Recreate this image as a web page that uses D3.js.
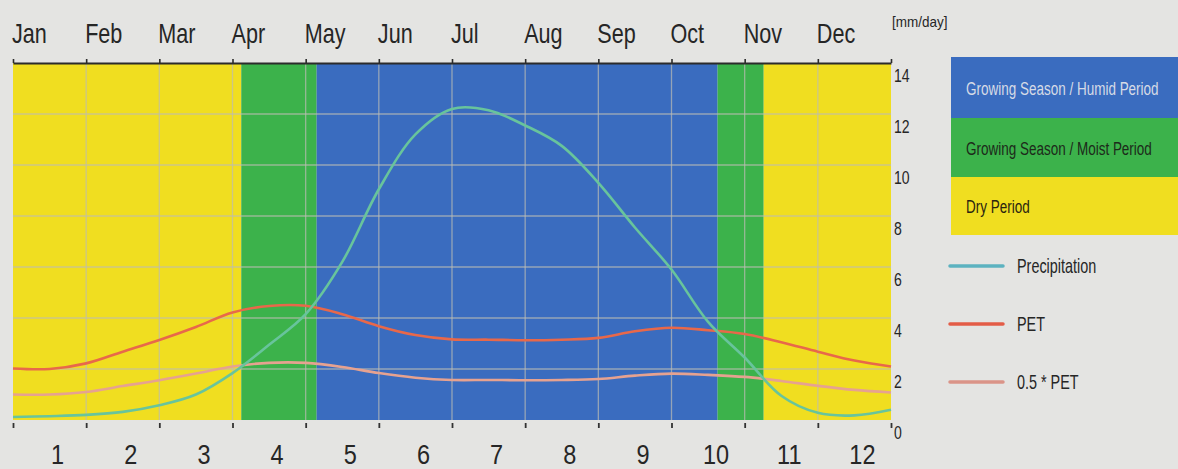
<!DOCTYPE html>
<html>
<head>
<meta charset="utf-8">
<script src="https://cdn.jsdelivr.net/npm/d3@7"></script>
<style>
  html, body { margin: 0; padding: 0; background: #e4e4e2; }
  svg { display: block; }
  text { font-family: "Liberation Sans", Arial, sans-serif; fill: #262626; }
</style>
</head>
<body>
<svg id="chart" width="1178" height="469"></svg>
<script>
// ---- data -------------------------------------------------------------
const monthNames = ["Jan", "Feb", "Mar", "Apr", "May", "Jun", "Jul", "Aug", "Sep", "Oct", "Nov", "Dec"];
const monthNumbers = ["1", "2", "3", "4", "5", "6", "7", "8", "9", "10", "11", "12"];
const yTickValues = [0, 2, 4, 6, 8, 10, 12, 14];
const unitLabel = "[mm/day]";

// sample positions along the year, in months from 1 January
const samplePos = [0, 0.5, 1, 1.5, 2, 2.5, 3, 3.5, 4, 4.5, 5, 5.5, 6,
                   6.5, 7, 7.5, 8, 8.5, 9, 9.5, 10, 10.5, 11, 11.5, 12];
// mm/day
const precipitation = [0.12, 0.15, 0.2, 0.32, 0.58, 1.0, 1.84, 2.95, 4.15, 6.2, 9.05, 11.2, 12.2,
                       12.15, 11.55, 10.75, 9.3, 7.55, 5.9, 3.85, 2.45, 0.95, 0.28, 0.18, 0.4];
const pet = [2.02, 2.0, 2.22, 2.68, 3.14, 3.65, 4.22, 4.47, 4.48, 4.15, 3.68, 3.33, 3.16,
             3.15, 3.13, 3.15, 3.22, 3.48, 3.62, 3.52, 3.37, 3.05, 2.68, 2.33, 2.1];
const halfPet = [1.0, 1.0, 1.1, 1.33, 1.56, 1.82, 2.1, 2.24, 2.24, 2.08, 1.84, 1.66, 1.57,
                 1.57, 1.56, 1.57, 1.61, 1.74, 1.82, 1.77, 1.69, 1.53, 1.34, 1.18, 1.08];

// season boundaries (months from 1 January) and the kind of each period
const periodBounds = [0, 3.12, 4.15, 9.63, 10.26, 12];
const periodKinds = ["dry", "moist", "humid", "moist", "dry"];

const bandKinds = ["humid", "moist", "dry"];
const bandLabels = ["Growing Season / Humid Period", "Growing Season / Moist Period", "Dry Period"];
const seriesNames = ["Precipitation", "PET", "0.5 * PET"];

// ---- styling ----------------------------------------------------------
const bandFill = { humid: "#3a6cbf", moist: "#3cb24b", dry: "#f0de20" };
const bandText = { humid: "#d6dbe6", moist: "#1d2a1a", dry: "#2a2410" };
const seriesColor = ["#68c49c", "#e8684a", "#e6a290"];
const legendLineColor = ["#5cb2c0", "#e35c47", "#da9488"];

const plot = { left: 13, right: 891, top: 63, bottom: 420 };

const svg = d3.select("#chart");

const x = d3.scaleLinear().domain([0, 12]).range([plot.left, plot.right]);
const y = d3.scaleLinear().domain([0, 14]).range([plot.bottom, plot.top]);

// place a text at (px, py) and narrow it horizontally by factor k
function placeNarrow(sel, px, py, k) {
  sel.attr("x", 0).attr("y", 0)
    .attr("transform", (d, i) => `translate(${px(d, i)},${py(d, i)}) scale(${k},1)`);
}

// ---- season bands -----------------------------------------------------
svg.append("g").selectAll("rect")
  .data(periodKinds)
  .join("rect")
  .attr("x", (d, i) => x(periodBounds[i]))
  .attr("width", (d, i) => x(periodBounds[i + 1]) - x(periodBounds[i]))
  .attr("y", y(14))
  .attr("height", y(0) - y(14))
  .attr("fill", d => bandFill[d]);

// ---- grid -------------------------------------------------------------
const grid = svg.append("g")
  .attr("stroke", "#bcbcb4")
  .attr("stroke-opacity", 0.7)
  .attr("stroke-width", 1.3);
grid.selectAll("line.v")
  .data(d3.range(1, 12))
  .join("line")
  .attr("class", "v")
  .attr("x1", d => x(d)).attr("x2", d => x(d))
  .attr("y1", y(14)).attr("y2", y(0));
grid.selectAll("line.h")
  .data(yTickValues.filter(v => v > 0 && v < 14))
  .join("line")
  .attr("class", "h")
  .attr("x1", x(0)).attr("x2", x(12))
  .attr("y1", d => y(d)).attr("y2", d => y(d));

// ---- series lines -----------------------------------------------------
const line = d3.line()
  .x(d => x(d[0]))
  .y(d => y(d[1]))
  .curve(d3.curveCatmullRom.alpha(0.5));

const allSeries = [precipitation, pet, halfPet];
// draw 0.5*PET first, precipitation last
[2, 1, 0].forEach(i => {
  svg.append("path")
    .datum(samplePos.map((p, j) => [p, allSeries[i][j]]))
    .attr("fill", "none")
    .attr("stroke", seriesColor[i])
    .attr("stroke-width", 2.6)
    .attr("stroke-linejoin", "round")
    .attr("d", line);
});

// ---- axes -------------------------------------------------------------
const topAxis = svg.append("g")
  .attr("transform", `translate(0,${plot.top})`)
  .call(d3.axisTop(x).tickValues(d3.range(0, 13)).tickFormat("").tickSize(4).tickSizeOuter(0));
topAxis.select(".domain").attr("stroke", "#2b2b2b").attr("stroke-width", 2.2);
topAxis.selectAll(".tick line").attr("stroke", "#2b2b2b").attr("stroke-width", 1.6);

const bottomAxis = svg.append("g")
  .attr("transform", `translate(0,${plot.bottom + 3})`)
  .call(d3.axisBottom(x).tickValues(d3.range(0, 13)).tickFormat("").tickSize(5).tickSizeOuter(0));
bottomAxis.select(".domain").remove();
bottomAxis.selectAll(".tick line").attr("stroke", "#333").attr("stroke-width", 1.8);

// month names above the plot, starting at each month boundary
svg.append("g").selectAll("text")
  .data(monthNames)
  .join("text")
  .attr("font-size", 27)
  .text(d => d)
  .call(placeNarrow, (d, i) => x(i) - 1, () => 43, 0.8);

// month numbers under the plot, centred in each month
svg.append("g").selectAll("text")
  .data(monthNumbers)
  .join("text")
  .attr("text-anchor", "middle")
  .attr("font-size", 28)
  .text(d => d)
  .call(placeNarrow, (d, i) => x(i + 0.5) + 8, () => 464, 0.84);

// value axis on the right, labels hanging below their gridline
svg.append("g").selectAll("text")
  .data(yTickValues)
  .join("text")
  .attr("font-size", 18)
  .text(d => d)
  .call(placeNarrow, () => plot.right + 3, d => y(d) + 19, 0.78);

svg.append("g").selectAll("text")
  .data([unitLabel])
  .join("text")
  .attr("font-size", 15)
  .text(d => d)
  .call(placeNarrow, () => plot.right + 1, () => 27, 0.9);

// ---- legend: season bands ---------------------------------------------
const bandLegend = svg.append("g").attr("transform", "translate(951,57)");
const bandH = [61, 59, 58];
const bandTop = [0, 61, 120];
bandLegend.selectAll("rect")
  .data(bandKinds)
  .join("rect")
  .attr("x", 0)
  .attr("y", (d, i) => bandTop[i])
  .attr("width", 227)
  .attr("height", (d, i) => bandH[i])
  .attr("fill", d => bandFill[d]);
bandLegend.selectAll("text")
  .data(bandKinds)
  .join("text")
  .attr("font-size", 19)
  .style("fill", d => bandText[d])
  .text((d, i) => bandLabels[i])
  .call(placeNarrow, () => 15, (d, i) => bandTop[i] + bandH[i] / 2 + 7, 0.71);

// ---- legend: series ---------------------------------------------------
const seriesLegend = svg.append("g").attr("transform", "translate(950,0)");
const seriesRowY = [266, 324, 382];
seriesLegend.selectAll("line")
  .data(seriesNames)
  .join("line")
  .attr("x1", 0).attr("x2", 53)
  .attr("y1", (d, i) => seriesRowY[i]).attr("y2", (d, i) => seriesRowY[i])
  .attr("stroke", (d, i) => legendLineColor[i])
  .attr("stroke-width", 3.5)
  .attr("stroke-linecap", "round");
seriesLegend.selectAll("text")
  .data(seriesNames)
  .join("text")
  .attr("font-size", 20)
  .text(d => d)
  .call(placeNarrow, () => 67, (d, i) => seriesRowY[i] + 7, 0.72);
</script>
</body>
</html>
